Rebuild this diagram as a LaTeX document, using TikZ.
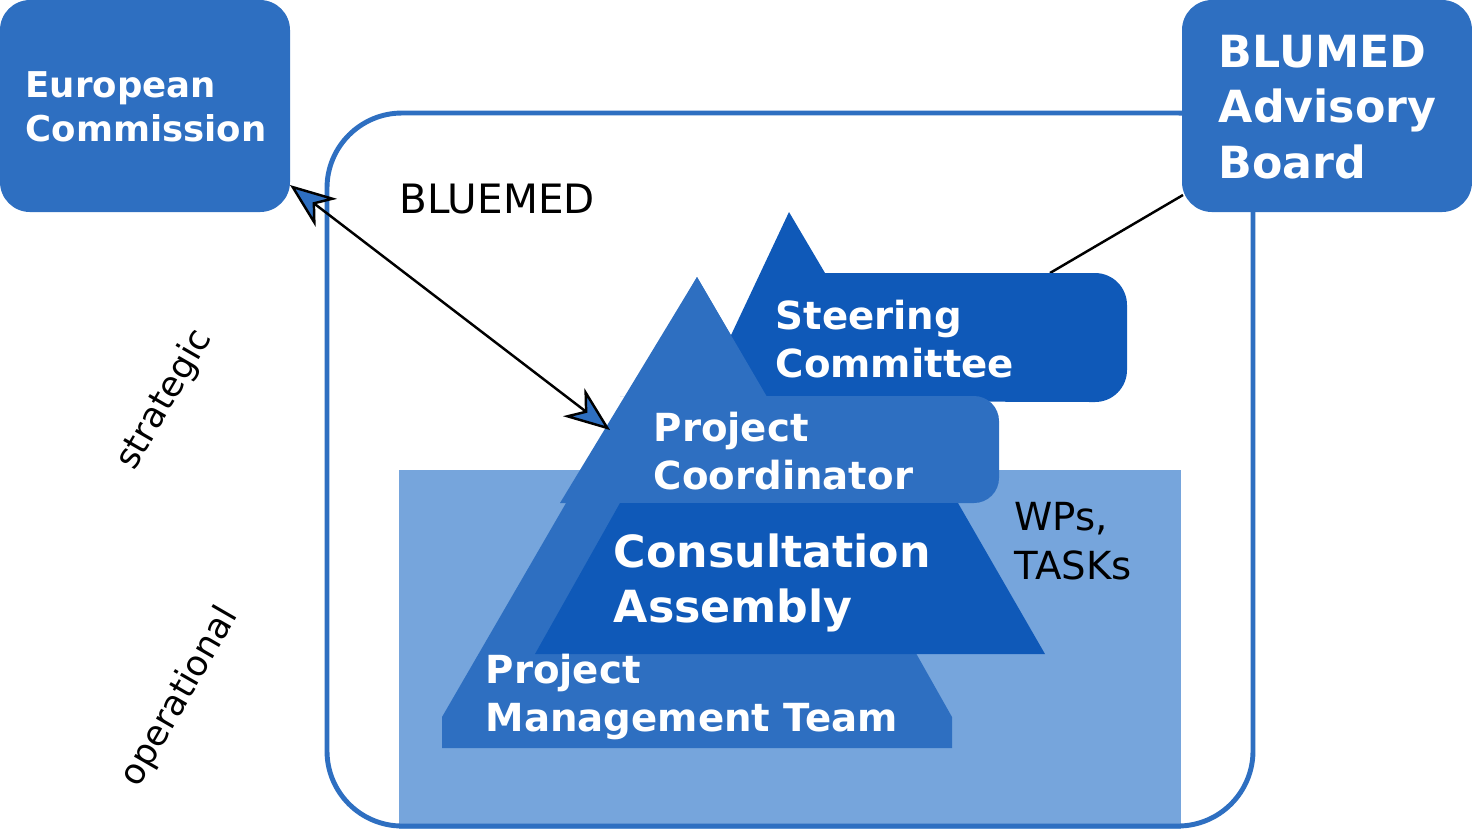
\documentclass[tikz,border=0pt]{standalone}
\usepackage{fontspec}
\setmainfont{DejaVu Sans}
\usetikzlibrary{arrows.meta}
\definecolor{mid}{HTML}{2E6FC1}
\definecolor{dark}{HTML}{0F59B8}
\definecolor{light}{HTML}{76A5DC}
\newcommand{\fs}[1]{\fontsize{#1}{1.25\dimexpr#1\relax}\selectfont}
\begin{document}
\begin{tikzpicture}[x=0.01cm,y=-0.01cm,
 box/.style={fill=mid,rounded corners=0.3cm},
 wt/.style={text=white,font=\bfseries,align=left,anchor=west,inner sep=0pt},
 bt/.style={text=black,align=left,anchor=west,inner sep=0pt}]
\useasboundingbox (0,0) rectangle (1472,829);
\fill[light] (399,470) rectangle (1181,829);
\draw[mid,line width=1.4pt,rounded corners=0.75cm] (327,113) rectangle (1253,826);
\fill[box] (0,0) rectangle (290,212);
\fill[box] (1182,0) rectangle (1472,212);
\node[wt,font=\bfseries\fs{10.1pt}] (ec) at (25,107) {European\\Commission};
\node[wt,font=\bfseries\fs{12.6pt}] (ab) at (1218,107) {BLUMED\\Advisory\\Board};
\coordinate (abl) at (1183,195);
\coordinate (scl) at (1050,273);
\draw[line width=0.7pt] (abl) -- (scl);
\fill[mid] (697,277) -- (442,717) -- (442,748) -- (952,748) -- (952,717) -- (917,655) -- cycle;
\fill[dark] (789,212) -- (825,273) -- (1095,273) arc (-90:0:32) -- (1127,370) arc (0:90:32) -- (760,401) -- (700,401) -- cycle;
\fill[mid,rounded corners=0.25cm] (620,396) -- (999,396) -- (999,503) -- (600,503) -- (660,396);
\fill[mid] (697,277) -- (770,402) -- (600,503) -- (560,503) -- cycle;
\fill[dark] (620,503) -- (958,503) -- (1045,654) -- (535,654) -- cycle;
\node[bt,font=\fs{11.5pt}] (bl) at (399,199) {BLUEMED};
\node[wt,font=\bfseries\fs{11pt}] (sc) at (775,339) {Steering\\Committee};
\node[wt,font=\bfseries\fs{11pt}] (pc) at (653,451) {Project\\Coordinator};
\node[wt,font=\bfseries\fs{12.6pt}] (ca) at (613,583) {Consultation\\Assembly};
\node[wt,font=\bfseries\fs{11pt}] (pm) at (485,697) {Project\\Management Team};
\node[bt,font=\fs{11pt}] (wp) at (1014,541) {WPs,\\TASKs};
\node[font=\fs{10pt},rotate=60] (st) at (165,400) {strategic};
\node[font=\fs{10pt},rotate=60] (op) at (180,697) {operational};
\coordinate (a1) at (290,185);
\coordinate (a2) at (610,430);
\draw[line width=0.7pt,{Stealth[open,fill=mid,length=13pt,width=10pt,inset=4pt]}-{Stealth[open,fill=mid,length=13pt,width=10pt,inset=4pt]}] (a1) -- (a2);
\end{tikzpicture}
\end{document}
